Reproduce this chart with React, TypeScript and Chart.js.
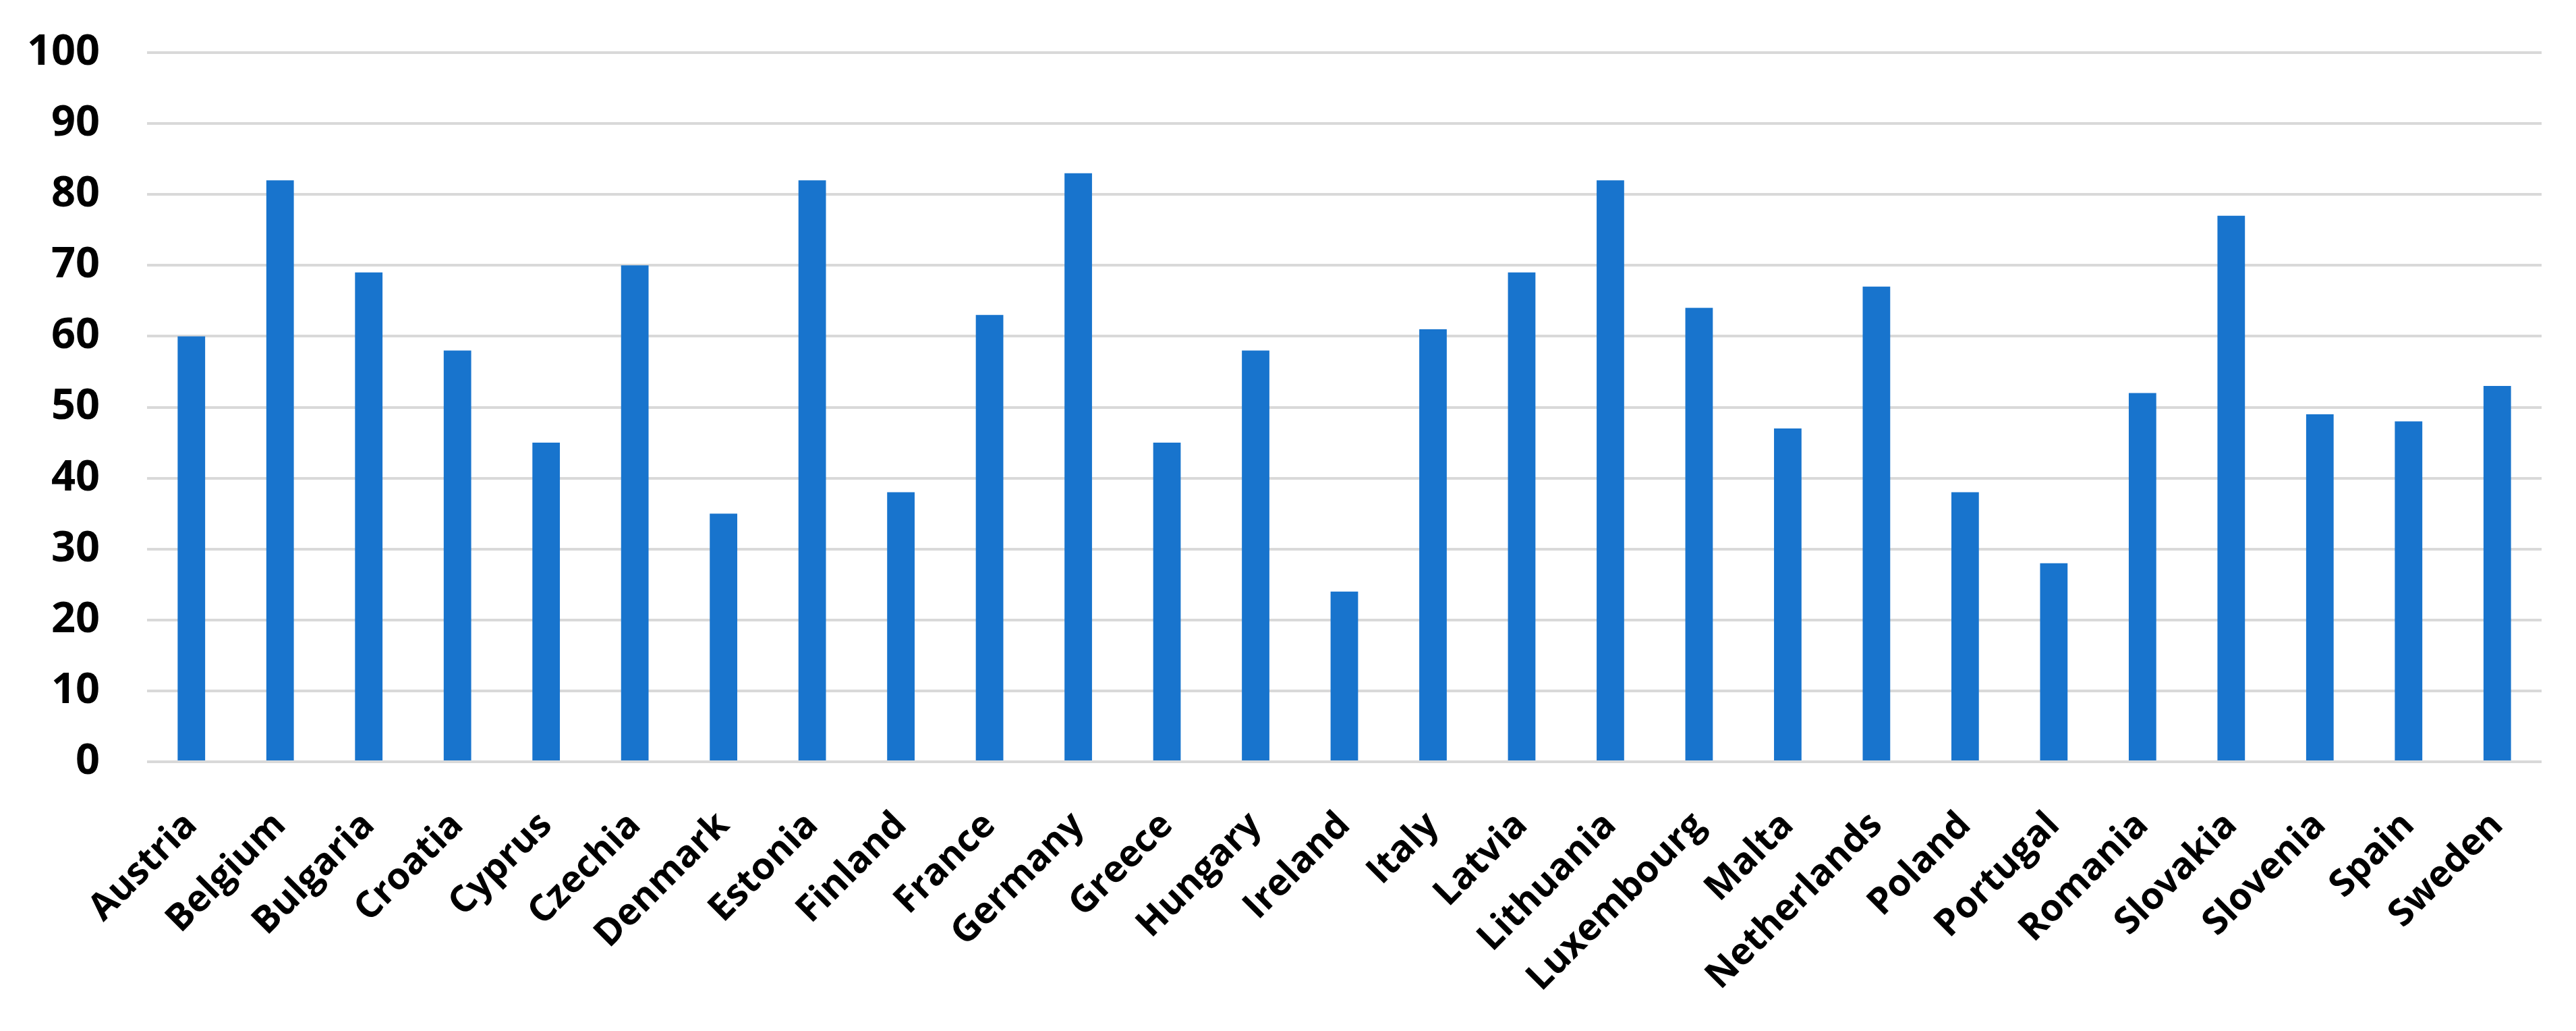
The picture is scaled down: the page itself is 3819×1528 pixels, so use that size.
import React, { useEffect, useRef } from "react";
import { Chart, registerables } from "chart.js";

Chart.register(...registerables);

const categories = [
  "Austria", "Belgium", "Bulgaria", "Croatia", "Cyprus", "Czechia", "Denmark",
  "Estonia", "Finland", "France", "Germany", "Greece", "Hungary", "Ireland",
  "Italy", "Latvia", "Lithuania", "Luxembourg", "Malta", "Netherlands",
  "Poland", "Portugal", "Romania", "Slovakia", "Slovenia", "Spain", "Sweden",
];
const values = [
  60, 82, 69, 58, 45, 70, 35,
  82, 38, 63, 83, 45, 58, 24,
  61, 69, 82, 64, 47, 67,
  38, 28, 52, 77, 49, 48, 53,
];
const yMin = 0;
const yMax = 100;
const yStep = 10;

const W = 3819;
const H = 1528;

export default function App() {
  const ref = useRef<HTMLCanvasElement | null>(null);
  useEffect(() => {
    document.body.style.margin = "0";
    const canvas = ref.current;
    if (!canvas) return;
    const family = "'Open Sans', 'Noto Sans', sans-serif";
    const chart = new Chart(canvas, {
      type: "bar",
      data: {
        labels: categories,
        datasets: [
          {
            data: values,
            backgroundColor: "#1874CD",
            borderWidth: 0,
            barPercentage: 0.31,
            categoryPercentage: 1,
          },
        ],
      },
      options: {
        responsive: false,
        animation: false,
        devicePixelRatio: 1,
        layout: { padding: { top: 78, right: 51, left: 0, bottom: 0 } },
        plugins: { legend: { display: false }, tooltip: { enabled: false }, title: { display: false } },
        scales: {
          x: {
            grid: { display: false, drawTicks: false },
            border: { display: false },
            ticks: {
              color: "#000",
              font: { family, weight: "bold", size: 55 },
              maxRotation: 45,
              minRotation: 45,
              autoSkip: false,
              padding: 62,
            },
            afterFit: (scale: any) => {
              scale.height = 399;
            },
          },
          y: {
            min: yMin,
            max: yMax,
            grid: {
              color: "#d9d9d9",
              lineWidth: 4,
              drawTicks: true,
              tickLength: 60,
              tickColor: "rgba(0,0,0,0)",
            },
            border: { display: false },
            ticks: {
              stepSize: yStep,
              color: "#000",
              font: { family, weight: "bold", size: 63 },
              padding: 10,
            },
            afterFit: (scale: any) => {
              scale.width = 218;
            },
          },
        },
      },
    });
    return () => chart.destroy();
  }, []);
  return (
    <div style={{ width: W, height: H, background: "#fff" }}>
      <canvas ref={ref} width={W} height={H} style={{ display: "block", width: W, height: H }} />
    </div>
  );
}
